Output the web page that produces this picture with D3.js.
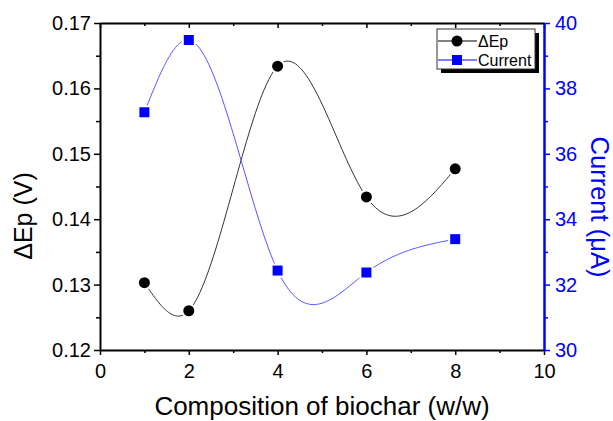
<!DOCTYPE html>
<html>
<head>
<meta charset="utf-8">
<script src="https://cdn.jsdelivr.net/npm/d3@7"></script>
<style>
  body { margin: 0; background: #fff; }
  text { font-family: "Liberation Sans", Arial, sans-serif; }
</style>
</head>
<body>
<div id="chart"></div>
<script>
// data
var composition = [1, 2, 4, 6, 8];
var deltaEp = [0.1303, 0.1260, 0.1634, 0.1434, 0.1477];
var current = [37.27, 39.48, 32.43, 32.37, 33.39];

var xTicks = [0, 2, 4, 6, 8, 10];
var leftTicks = [0.12, 0.13, 0.14, 0.15, 0.16, 0.17];
var rightTicks = [30, 32, 34, 36, 38, 40];

var width = 613, height = 421;
var margin = { top: 23, right: 69, bottom: 71, left: 100 };
var blue = "#0000ff";

var svg = d3.select("#chart")
    .append("svg")
    .attr("width", width)
    .attr("height", height);

var x = d3.scaleLinear().domain([0, 10]).range([margin.left, width - margin.right]);
var yL = d3.scaleLinear().domain([0.12, 0.17]).range([height - margin.bottom, margin.top]);
var yR = d3.scaleLinear().domain([30, 40]).range([height - margin.bottom, margin.top]);

var fmtL = d3.format(".2f");

// natural cubic spline y(x) through the points (Origin style spline connect)
function curveSplineX(context) {
    var pts = [];
    function solve(t, v) {
        var n = v.length, M = new Array(n).fill(0);
        if (n < 3) return M;
        var a = [], b = [], c = [], r = [];
        for (var i = 1; i < n - 1; i++) {
            var h0 = t[i] - t[i - 1], h1 = t[i + 1] - t[i];
            a.push(h0); b.push(2 * (h0 + h1)); c.push(h1);
            r.push(6 * ((v[i + 1] - v[i]) / h1 - (v[i] - v[i - 1]) / h0));
        }
        var m = b.length;
        for (var i = 1; i < m; i++) {
            var w = a[i] / b[i - 1];
            b[i] -= w * c[i - 1];
            r[i] -= w * r[i - 1];
        }
        M[m] = r[m - 1] / b[m - 1];
        for (var i = m - 2; i >= 0; i--) M[i + 1] = (r[i] - c[i] * M[i + 2]) / b[i];
        return M;
    }
    return {
        areaStart: function () {},
        areaEnd: function () {},
        lineStart: function () { pts = []; },
        point: function (px, py) { pts.push([+px, +py]); },
        lineEnd: function () {
            var n = pts.length;
            if (!n) return;
            var xs = pts.map(p => p[0]), ys = pts.map(p => p[1]);
            var My = solve(xs, ys);
            context.moveTo(xs[0], ys[0]);
            for (var i = 0; i < n - 1; i++) {
                var h = xs[i + 1] - xs[i];
                for (var k = 1; k <= 40; k++) {
                    var bb = k / 40, aa = 1 - bb;
                    var sy = aa * ys[i] + bb * ys[i + 1] +
                        ((aa * aa * aa - aa) * My[i] + (bb * bb * bb - bb) * My[i + 1]) * h * h / 6;
                    context.lineTo(xs[i] + bb * h, sy);
                }
            }
        }
    };
}

// bottom axis, major + minor
svg.append("g")
    .attr("transform", "translate(0," + (height - margin.bottom) + ")")
    .call(d3.axisBottom(x).tickValues(d3.range(1, 10, 2)).tickSize(3).tickFormat(""))
    .call(g => g.select(".domain").remove())
    .selectAll("line").attr("stroke-width", 1.5);

var bottomAxis = svg.append("g")
    .attr("transform", "translate(0," + (height - margin.bottom) + ")")
    .call(d3.axisBottom(x).tickValues(xTicks).tickSize(5).tickSizeOuter(0).tickPadding(9));
bottomAxis.select(".domain").attr("stroke-width", 2);
bottomAxis.selectAll("line").attr("stroke-width", 1.5);
bottomAxis.selectAll("text").attr("font-size", 20).attr("fill", "#000");

// top axis, ticks inside
svg.append("g")
    .attr("transform", "translate(0," + margin.top + ")")
    .call(d3.axisBottom(x).tickValues(d3.range(1, 10, 2)).tickSize(3).tickFormat(""))
    .call(g => g.select(".domain").remove())
    .selectAll("line").attr("stroke-width", 1.5);
var topAxis = svg.append("g")
    .attr("transform", "translate(0," + margin.top + ")")
    .call(d3.axisBottom(x).tickValues(xTicks).tickSize(5).tickSizeOuter(0).tickFormat(""));
topAxis.select(".domain").attr("stroke-width", 2);
topAxis.selectAll("line").attr("stroke-width", 1.5);

// left axis
svg.append("g")
    .attr("transform", "translate(" + margin.left + ",0)")
    .call(d3.axisLeft(yL).tickValues(d3.range(0.125, 0.17, 0.01)).tickSize(4).tickFormat(""))
    .call(g => g.select(".domain").remove())
    .selectAll("line").attr("stroke-width", 1.5);
var leftAxis = svg.append("g")
    .attr("transform", "translate(" + margin.left + ",0)")
    .call(d3.axisLeft(yL).tickValues(leftTicks).tickSize(6).tickSizeOuter(0).tickPadding(3).tickFormat(fmtL));
leftAxis.select(".domain").attr("stroke-width", 2);
leftAxis.selectAll("line").attr("stroke-width", 1.5);
leftAxis.selectAll("text").attr("font-size", 20).attr("fill", "#000");

// right axis (blue)
svg.append("g")
    .attr("transform", "translate(" + (width - margin.right) + ",0)")
    .call(d3.axisRight(yR).tickValues(d3.range(31, 40, 2)).tickSize(4).tickFormat(""))
    .call(g => g.select(".domain").remove())
    .selectAll("line").attr("stroke", blue).attr("stroke-width", 1.5);
var rightAxis = svg.append("g")
    .attr("transform", "translate(" + (width - margin.right) + ",0)")
    .call(d3.axisRight(yR).tickValues(rightTicks).tickSize(6).tickSizeOuter(0).tickPadding(5));
rightAxis.select(".domain").attr("stroke", blue).attr("stroke-width", 2.5);
rightAxis.selectAll("line").attr("stroke", blue).attr("stroke-width", 1.5);
rightAxis.selectAll("text").attr("font-size", 20).attr("fill", blue);

// axis titles
svg.append("text")
    .attr("x", (margin.left + width - margin.right) / 2)
    .attr("y", 415)
    .attr("text-anchor", "middle")
    .attr("font-size", 26)
    .text("Composition of biochar (w/w)");

svg.append("text")
    .attr("transform", "translate(32,216) rotate(-90)")
    .attr("text-anchor", "middle")
    .attr("font-size", 25)
    .text("\u0394Ep (V)");

svg.append("text")
    .attr("transform", "translate(591,207) rotate(90)")
    .attr("text-anchor", "middle")
    .attr("font-size", 25.5)
    .attr("fill", blue)
    .text("Current (\u03bcA)");

// spline lines
var lineL = d3.line()
    .x((d, i) => x(composition[i]))
    .y(d => yL(d))
    .curve(curveSplineX);
var lineR = d3.line()
    .x((d, i) => x(composition[i]))
    .y(d => yR(d))
    .curve(curveSplineX);

svg.append("path")
    .attr("d", lineL(deltaEp))
    .attr("fill", "none")
    .attr("stroke", "#333")
    .attr("stroke-width", 1);

svg.append("path")
    .attr("d", lineR(current))
    .attr("fill", "none")
    .attr("stroke", "#5555ff")
    .attr("stroke-width", 1);

// markers with white ring so line stops short of them
svg.append("g").selectAll("circle")
    .data(deltaEp)
    .enter().append("circle")
    .attr("cx", (d, i) => x(composition[i]))
    .attr("cy", d => yL(d))
    .attr("r", 5.5)
    .attr("fill", "#000")
    .attr("stroke", "#fff")
    .attr("stroke-width", 4)
    .attr("paint-order", "stroke");

svg.append("g").selectAll("rect")
    .data(current)
    .enter().append("rect")
    .attr("x", (d, i) => x(composition[i]) - 5)
    .attr("y", d => yR(d) - 5)
    .attr("width", 10)
    .attr("height", 10)
    .attr("fill", blue)
    .attr("stroke", "#fff")
    .attr("stroke-width", 4)
    .attr("paint-order", "stroke");

// legend
var lg = svg.append("g").attr("transform", "translate(437,29)");
lg.append("rect").attr("x", 4).attr("y", 4).attr("width", 98).attr("height", 40).attr("fill", "#000");
lg.append("rect").attr("x", 0).attr("y", 0).attr("width", 98).attr("height", 40)
    .attr("fill", "#fff").attr("stroke", "#333").attr("stroke-width", 1);

lg.append("line").attr("x1", 1).attr("x2", 40).attr("y1", 12).attr("y2", 12).attr("stroke", "#000");
lg.append("circle").attr("cx", 20).attr("cy", 12).attr("r", 5.5).attr("fill", "#000");
lg.append("text").attr("x", 41).attr("y", 18).attr("font-size", 16).text("\u0394Ep");

lg.append("line").attr("x1", 1).attr("x2", 40).attr("y1", 31).attr("y2", 31).attr("stroke", blue);
lg.append("rect").attr("x", 15).attr("y", 26).attr("width", 10).attr("height", 10).attr("fill", blue);
lg.append("text").attr("x", 41).attr("y", 37).attr("font-size", 16).text("Current");
</script>
</body>
</html>
